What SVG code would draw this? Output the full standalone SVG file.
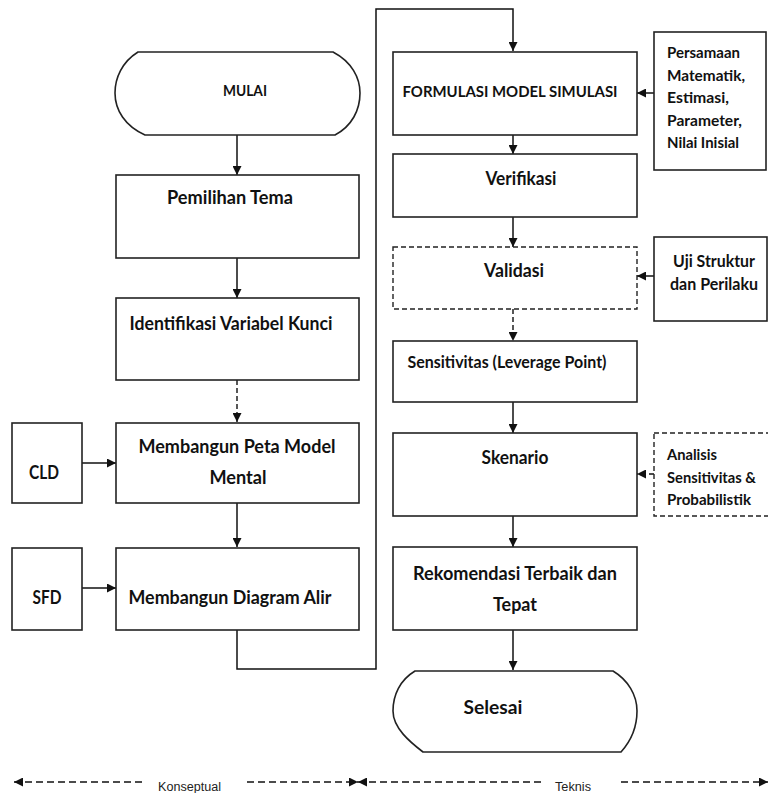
<svg xmlns="http://www.w3.org/2000/svg" width="768" height="793" viewBox="0 0 768 793">
<style>
.box{fill:#fff;stroke:#222;stroke-width:1.6}
.dbox{fill:#fff;stroke:#222;stroke-width:1.4;stroke-dasharray:5 3}
.ln{fill:none;stroke:#111;stroke-width:1.5}
.dl{fill:none;stroke:#111;stroke-width:1.4;stroke-dasharray:5 3}
.bl{fill:none;stroke:#111;stroke-width:1.3;stroke-dasharray:7 4}
.t{font-family:Lato,"Open Sans","Liberation Sans",sans-serif;font-weight:bold;fill:#111;font-size:18px}
.m{font-size:15px}
.p{font-size:16px}
.u{font-size:17.5px}
.s{font-family:"Liberation Sans",Lato,sans-serif;font-weight:normal;fill:#222;font-size:12px}
.c{text-anchor:middle}
</style>
<defs>
<marker id="ah" viewBox="0 0 10 10" refX="10" refY="5" markerWidth="9" markerHeight="9" markerUnits="userSpaceOnUse" orient="auto-start-reverse">
<path d="M0,0 L10,5 L0,10 z" fill="#111"/>
</marker>
</defs>
<rect width="768" height="793" fill="#fff"/>

<g id="connectors">
<path class="ln" d="M237,135 L237,175" marker-end="url(#ah)"/>
<path class="ln" d="M237,258 L237,298" marker-end="url(#ah)"/>
<path class="dl" d="M237,380 L237,422" marker-end="url(#ah)"/>
<path class="ln" d="M237,503 L237,547" marker-end="url(#ah)"/>
<path class="ln" d="M82,463 L116,463" marker-end="url(#ah)"/>
<path class="ln" d="M82,588 L116,588" marker-end="url(#ah)"/>
<path class="ln" d="M237,630 L237,669 L376,669 L376,9 L513,9 L513,51" marker-end="url(#ah)"/>
<path class="ln" d="M654,93 L637,93" marker-end="url(#ah)"/>
<path class="ln" d="M513,135 L513,154" marker-end="url(#ah)"/>
<path class="ln" d="M513,217 L513,247" marker-end="url(#ah)"/>
<path class="ln" d="M654,276 L637,276" marker-end="url(#ah)"/>
<path class="dl" d="M513,309 L513,341" marker-end="url(#ah)"/>
<path class="ln" d="M513,402 L513,433" marker-end="url(#ah)"/>
<path class="dl" d="M654,474 L637,474" marker-end="url(#ah)"/>
<path class="ln" d="M513,516 L513,547" marker-end="url(#ah)"/>
<path class="ln" d="M513,630 L513,670" marker-end="url(#ah)"/>
</g>

<g id="mulai">
<path class="box" d="M138,52 L333,52 C352,62 360,78 360,93 C360,110 352,126 335,135 L145,135 C125,126 115,110 115,93 C115,78 122,62 138,52 Z"/>
<text class="t m c" x="245" y="96" textLength="44" lengthAdjust="spacingAndGlyphs">MULAI</text>
</g>
<g id="pemilihan">
<rect class="box" x="116" y="175" width="243" height="83"/>
<text class="t c" x="230" y="204" textLength="126" lengthAdjust="spacingAndGlyphs">Pemilihan Tema</text>
</g>
<g id="identifikasi">
<rect class="box" x="116" y="298" width="243" height="82"/>
<text class="t c" x="231" y="330" textLength="203" lengthAdjust="spacingAndGlyphs">Identifikasi Variabel Kunci</text>
</g>
<g id="peta">
<rect class="box" x="116" y="423" width="243" height="80"/>
<text class="t c" x="237" y="453" textLength="197" lengthAdjust="spacingAndGlyphs">Membangun Peta Model</text>
<text class="t c" x="238" y="484" textLength="57" lengthAdjust="spacingAndGlyphs">Mental</text>
</g>
<g id="cld">
<rect class="box" x="12" y="423" width="70" height="80"/>
<text class="t c" x="44" y="479" textLength="30" lengthAdjust="spacingAndGlyphs">CLD</text>
</g>
<g id="diagram">
<rect class="box" x="116" y="548" width="243" height="82"/>
<text class="t c" x="230" y="604" textLength="203" lengthAdjust="spacingAndGlyphs">Membangun Diagram Alir</text>
</g>
<g id="sfd">
<rect class="box" x="12" y="548" width="70" height="82"/>
<text class="t c" x="47" y="604" textLength="29" lengthAdjust="spacingAndGlyphs">SFD</text>
</g>

<g id="formulasi">
<rect class="box" x="393" y="52" width="244" height="83"/>
<text class="t m c" x="510" y="97" textLength="215" lengthAdjust="spacingAndGlyphs">FORMULASI MODEL SIMULASI</text>
</g>
<g id="persamaan">
<rect class="box" x="654" y="32" width="112" height="138"/>
<text class="t p" x="667" y="58" textLength="73" lengthAdjust="spacingAndGlyphs">Persamaan</text>
<text class="t p" x="667" y="81" textLength="78" lengthAdjust="spacingAndGlyphs">Matematik,</text>
<text class="t p" x="667" y="103" textLength="62" lengthAdjust="spacingAndGlyphs">Estimasi,</text>
<text class="t p" x="667" y="126" textLength="75" lengthAdjust="spacingAndGlyphs">Parameter,</text>
<text class="t p" x="667" y="148" textLength="72" lengthAdjust="spacingAndGlyphs">Nilai Inisial</text>
</g>
<g id="verifikasi">
<rect class="box" x="393" y="154" width="244" height="63"/>
<text class="t c" x="521" y="185" textLength="71" lengthAdjust="spacingAndGlyphs">Verifikasi</text>
</g>
<g id="validasi">
<rect class="dbox" x="393" y="247" width="244" height="62"/>
<text class="t c" x="514" y="277" textLength="60" lengthAdjust="spacingAndGlyphs">Validasi</text>
</g>
<g id="uji">
<rect class="box" x="654" y="237" width="113" height="84"/>
<text class="t u c" x="714" y="267" textLength="82" lengthAdjust="spacingAndGlyphs">Uji Struktur</text>
<text class="t u c" x="714" y="290" textLength="88" lengthAdjust="spacingAndGlyphs">dan Perilaku</text>
</g>
<g id="sensitivitas">
<rect class="box" x="393" y="341" width="244" height="61"/>
<text class="t u c" x="507" y="368" textLength="199" lengthAdjust="spacingAndGlyphs">Sensitivitas (Leverage Point)</text>
</g>
<g id="skenario">
<rect class="box" x="393" y="433" width="244" height="83"/>
<text class="t c" x="515" y="464" textLength="67" lengthAdjust="spacingAndGlyphs">Skenario</text>
</g>
<g id="analisis">
<rect class="dbox" x="654" y="433" width="116" height="83"/>
<text class="t m" x="667" y="460" textLength="50" lengthAdjust="spacingAndGlyphs">Analisis</text>
<text class="t m" x="667" y="483" textLength="89" lengthAdjust="spacingAndGlyphs">Sensitivitas &amp;</text>
<text class="t m" x="667" y="505" textLength="84" lengthAdjust="spacingAndGlyphs">Probabilistik</text>
</g>
<g id="rekomendasi">
<rect class="box" x="393" y="547" width="244" height="83"/>
<text class="t c" x="515" y="580" textLength="204" lengthAdjust="spacingAndGlyphs">Rekomendasi Terbaik dan</text>
<text class="t c" x="515" y="611" textLength="44" lengthAdjust="spacingAndGlyphs">Tepat</text>
</g>
<g id="selesai">
<path class="box" d="M415,671 L613,671 C628,680 637,695 637,711 C637,728 630,742 621,752 L423,752 C410,742 393,728 393,711 C393,695 400,680 415,671 Z"/>
<text class="t c" x="493" y="714" textLength="59" lengthAdjust="spacingAndGlyphs">Selesai</text>
</g>

<g id="legend">
<path class="bl" d="M14,782 L145,782" marker-start="url(#ah)"/>
<path class="bl" d="M247,782 L358,782" marker-end="url(#ah)"/>
<path class="bl" d="M358,782 L541,782" marker-start="url(#ah)"/>
<path class="bl" d="M621,782 L768,782" marker-end="url(#ah)"/>
<text class="s" x="158" y="791" textLength="63" lengthAdjust="spacingAndGlyphs">Konseptual</text>
<text class="s" x="555" y="791" textLength="36" lengthAdjust="spacingAndGlyphs">Teknis</text>
</g>
</svg>
